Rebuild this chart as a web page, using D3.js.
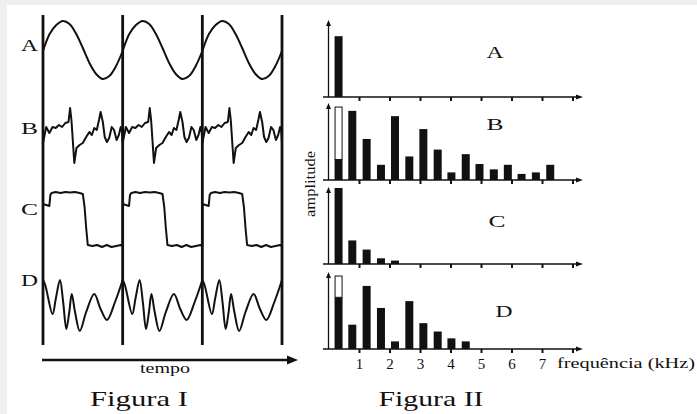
<!DOCTYPE html>
<html>
<head>
<meta charset="utf-8">
<script src="https://cdn.jsdelivr.net/npm/d3@7"></script>
<style>
  html, body { margin: 0; padding: 0; background: #efefef; }
  svg { display: block; }
  text { font-family: "Liberation Serif", "Times New Roman", serif; fill: #111; }
</style>
</head>
<body>
<svg id="chart" width="697" height="414"></svg>
<script>
// one period of each waveform: [fraction of period, amplitude]
const waveA = [[0, -1], [0.083, 16], [0.167, 25], [0.25, 29], [0.333, 26], [0.417, 16], [0.5, 2],
  [0.583, -13], [0.667, -24], [0.75, -29], [0.833, -26], [0.917, -16], [1, -1]];
const waveB = [[0, -15], [0.04, 1], [0.08, -5], [0.12, 1], [0.16, 0], [0.2, 3], [0.24, 1], [0.28, 5],
  [0.32, 6], [0.34, 20], [0.357, 8], [0.393, -35], [0.42, -20], [0.46, -17], [0.5, -15], [0.542, -9],
  [0.582, -4], [0.614, -7], [0.643, 0], [0.675, -2], [0.703, 8], [0.723, 16], [0.751, 6], [0.775, -9],
  [0.803, -14], [0.831, -10], [0.863, 1], [0.892, -2], [0.924, -12], [0.952, -7], [0.976, 1],
  [0.992, -4], [1, -15]];
const waveC = [[0, 4], [0.04, 3], [0.08, 2], [0.092, 13], [0.108, 15], [0.16, 16], [0.22, 15],
  [0.28, 16], [0.34, 15.5], [0.4, 16], [0.46, 15], [0.5, 14], [0.522, 1], [0.542, -20], [0.562, -37],
  [0.62, -38], [0.68, -37], [0.74, -39], [0.8, -37], [0.86, -39], [0.92, -38], [0.976, -37], [1, -38]];
const waveD = [[0, 25], [0.028, 20], [0.12, -9], [0.16, 6], [0.213, 25], [0.253, 3], [0.293, -24],
  [0.33, -7], [0.361, 11], [0.402, -7], [0.462, -26], [0.542, -7], [0.643, 11], [0.723, -4],
  [0.803, -15], [0.904, 3], [1, 25]];

const PERIODS = [0, 1, 2];
const PERIOD_MARKS = [0, 1, 2, 3];

// spectra (Figura II)
const HARMONIC_FREQS = [0.33, 0.78, 1.25, 1.72, 2.18, 2.65, 3.11, 3.58, 4.03, 4.5, 4.95, 5.42, 5.88, 6.33, 6.8, 7.27];
const SPECTRUM_A = [8.0];
const SPECTRUM_B = [2.7, 9.1, 5.4, 2.0, 8.4, 3.1, 6.7, 4.0, 1.0, 3.4, 2.1, 1.4, 2.0, 0.8, 1.0, 2.0];
const SPECTRUM_C = [10.0, 3.1, 1.9, 0.75, 0.45];
const SPECTRUM_D = [6.8, 3.2, 8.3, 5.4, 1.0, 6.3, 3.4, 2.3, 1.4, 1.0];
const PEAK_B = 9.6; // open box on top of the first bar
const PEAK_D = 9.6;
const FREQ_TICKS = [1, 2, 3, 4, 5, 6, 7, 8];

const WAVES = [
  { label: "A", data: waveA, center: 50, labelY: 51, curve: d3.curveCatmullRom },
  { label: "B", data: waveB, center: 128, labelY: 134, curve: d3.curveLinear },
  { label: "C", data: waveC, center: 208, labelY: 215, curve: d3.curveLinear },
  { label: "D", data: waveD, center: 305, labelY: 286, curve: d3.curveCatmullRom },
];

const SPECTRA = [
  { label: "A", values: SPECTRUM_A, peak: null, baseline: 97, labelX: 495, labelY: 58 },
  { label: "B", values: SPECTRUM_B, peak: PEAK_B, baseline: 180, labelX: 495, labelY: 130 },
  { label: "C", values: SPECTRUM_C, peak: null, baseline: 264, labelX: 497, labelY: 227 },
  { label: "D", values: SPECTRUM_D, peak: PEAK_D, baseline: 349, labelX: 504, labelY: 317 },
];

const INK = "#111";

function arrowHead(group, tipX, tipY, dir, len, half) {
  let points;
  if (dir === "right") {
    points = [[tipX, tipY], [tipX - len, tipY - half], [tipX - len, tipY + half]];
  } else {
    points = [[tipX, tipY], [tipX - half, tipY + len], [tipX + half, tipY + len]];
  }
  group.append("path")
    .attr("d", "M" + points.join("L") + "Z")
    .attr("fill", INK);
}

function stretchedText(group, str, x, y, size, length, anchor) {
  return group.append("text")
    .attr("x", x)
    .attr("y", y)
    .attr("font-size", size)
    .attr("text-anchor", anchor || "start")
    .attr("textLength", length)
    .attr("lengthAdjust", "spacingAndGlyphs")
    .text(str);
}

const svg = d3.select("#chart");

svg.append("rect")
  .attr("x", 7).attr("y", 5)
  .attr("width", 690).attr("height", 409)
  .attr("fill", "#fff");

// ---------- Figura I ----------
const fig1 = svg.append("g");
const time = d3.scaleLinear().domain([0, 3]).range([43, 282]);

WAVES.forEach((wave) => {
  const amp = d3.scaleLinear().domain([-40, 40]).range([wave.center + 40, wave.center - 40]);
  const points = PERIODS.flatMap((p) => wave.data.map(([t, v]) => [p + t, v]));
  const line = d3.line()
    .x((d) => time(d[0]))
    .y((d) => amp(d[1]))
    .curve(wave.curve);

  fig1.append("path")
    .attr("d", line(points))
    .attr("fill", "none")
    .attr("stroke", INK)
    .attr("stroke-width", 2)
    .attr("stroke-linejoin", "round");

  stretchedText(fig1, wave.label, 21, wave.labelY, 17, 17);
});

fig1.selectAll("line.period")
  .data(PERIOD_MARKS)
  .join("line")
  .attr("class", "period")
  .attr("x1", (d) => time(d))
  .attr("x2", (d) => time(d))
  .attr("y1", 15)
  .attr("y2", 345)
  .attr("stroke", INK)
  .attr("stroke-width", 2.8);

fig1.append("line")
  .attr("x1", 42).attr("x2", 289)
  .attr("y1", 360).attr("y2", 360)
  .attr("stroke", INK)
  .attr("stroke-width", 2.4);
arrowHead(fig1, 298, 360, "right", 11, 4.5);

stretchedText(fig1, "tempo", 165, 373, 14, 50, "middle");
stretchedText(fig1, "Figura I", 139, 406, 22, 98, "middle");

// ---------- Figura II ----------
const fig2 = svg.append("g");
const freq = d3.scaleLinear().domain([0, 8]).range([328.5, 572.5]);
const barWidth = 8;

SPECTRA.forEach((panel, i) => {
  const amp = d3.scaleLinear().domain([0, 10]).range([panel.baseline, panel.baseline - 76]);
  const g = fig2.append("g");

  g.selectAll("rect.bar")
    .data(panel.values)
    .join("rect")
    .attr("class", "bar")
    .attr("x", (d, j) => freq(HARMONIC_FREQS[j]) - barWidth / 2)
    .attr("width", barWidth)
    .attr("y", (d) => amp(d))
    .attr("height", (d) => amp(0) - amp(d))
    .attr("fill", INK);

  if (panel.peak !== null) {
    g.append("rect")
      .attr("x", freq(HARMONIC_FREQS[0]) - barWidth / 2 + 0.5)
      .attr("width", barWidth - 1)
      .attr("y", amp(panel.peak))
      .attr("height", amp(panel.values[0]) - amp(panel.peak))
      .attr("fill", "#fff")
      .attr("stroke", INK)
      .attr("stroke-width", 1);
  }

  // y axis
  g.append("line")
    .attr("x1", freq(0)).attr("x2", freq(0))
    .attr("y1", panel.baseline).attr("y2", amp(10) + 4)
    .attr("stroke", INK).attr("stroke-width", 1.3);
  arrowHead(g, freq(0), amp(10) - 1, "up", 6, 2.5);

  // x axis
  const last = i === SPECTRA.length - 1;
  const axis = d3.axisBottom(freq)
    .tickValues(FREQ_TICKS)
    .tickSize(4)
    .tickPadding(5)
    .tickFormat((d) => (last && d <= 7 ? d : ""));

  const ax = g.append("g")
    .attr("transform", `translate(0,${panel.baseline})`)
    .call(axis);
  ax.select(".domain").remove();
  ax.selectAll(".tick line").attr("stroke", INK).attr("stroke-width", 2);
  ax.selectAll(".tick text")
    .attr("font-family", "Liberation Serif, serif")
    .attr("font-size", 15)
    .attr("fill", INK);

  g.append("line")
    .attr("x1", 323).attr("x2", 576)
    .attr("y1", panel.baseline).attr("y2", panel.baseline)
    .attr("stroke", INK).attr("stroke-width", 1.3);
  arrowHead(g, 583, panel.baseline, "right", 7, 2.5);

  stretchedText(g, panel.label, panel.labelX, panel.labelY, 17, 17, "middle");
});

stretchedText(fig2, "frequência (kHz)", 557, 368, 15, 138);
stretchedText(fig2, "Figura II", 431, 406, 22, 105, "middle");

fig2.append("text")
  .attr("transform", "translate(315,184) rotate(-90)")
  .attr("text-anchor", "middle")
  .attr("font-size", 15)
  .attr("textLength", 66)
  .attr("lengthAdjust", "spacingAndGlyphs")
  .text("amplitude");
</script>
</body>
</html>
